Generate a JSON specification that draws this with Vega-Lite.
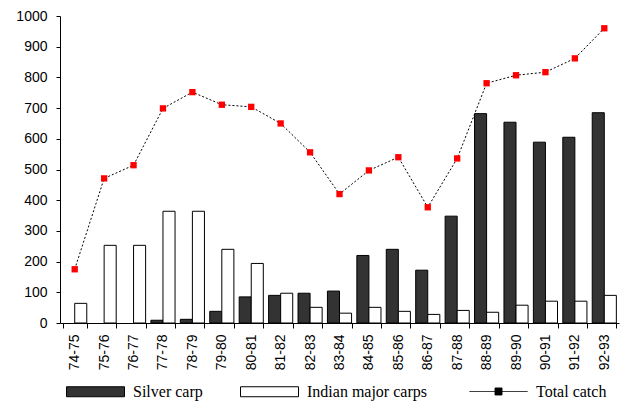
{
  "$schema": "https://vega.github.io/schema/vega-lite/v6.json",
  "width": 559,
  "height": 307,
  "autosize": {"type": "none"},
  "padding": {"left": 60, "top": 16, "right": 5, "bottom": 82},
  "background": "white",
  "config": {
    "view": {"stroke": null},
    "axis": {"domainColor": "black", "tickColor": "black", "labelColor": "black", "labelFont": "Liberation Sans", "labelFontSize": 14, "grid": false, "title": null}
  },
  "data": {
    "values": [
      {"period": "74-75", "Silver carp": 0, "Indian major carps": 64, "Total catch": 175},
      {"period": "75-76", "Silver carp": 0, "Indian major carps": 253, "Total catch": 471},
      {"period": "76-77", "Silver carp": 0, "Indian major carps": 253, "Total catch": 514},
      {"period": "77-78", "Silver carp": 9, "Indian major carps": 364, "Total catch": 699},
      {"period": "78-79", "Silver carp": 12, "Indian major carps": 364, "Total catch": 752},
      {"period": "79-80", "Silver carp": 38, "Indian major carps": 240, "Total catch": 711},
      {"period": "80-81", "Silver carp": 85, "Indian major carps": 194, "Total catch": 704},
      {"period": "81-82", "Silver carp": 90, "Indian major carps": 97, "Total catch": 650},
      {"period": "82-83", "Silver carp": 97, "Indian major carps": 51, "Total catch": 556},
      {"period": "83-84", "Silver carp": 104, "Indian major carps": 32, "Total catch": 420},
      {"period": "84-85", "Silver carp": 220, "Indian major carps": 51, "Total catch": 497},
      {"period": "85-86", "Silver carp": 240, "Indian major carps": 38, "Total catch": 540},
      {"period": "86-87", "Silver carp": 172, "Indian major carps": 28, "Total catch": 377},
      {"period": "87-88", "Silver carp": 348, "Indian major carps": 41, "Total catch": 536},
      {"period": "88-89", "Silver carp": 682, "Indian major carps": 35, "Total catch": 781},
      {"period": "89-90", "Silver carp": 654, "Indian major carps": 58, "Total catch": 807},
      {"period": "90-91", "Silver carp": 589, "Indian major carps": 71, "Total catch": 817},
      {"period": "91-92", "Silver carp": 605, "Indian major carps": 71, "Total catch": 862},
      {"period": "92-93", "Silver carp": 685, "Indian major carps": 90, "Total catch": 960}
    ]
  },
  "encoding": {
    "x": {
      "field": "period", "type": "nominal", "sort": null,
      "scale": {"paddingInner": 0.18, "paddingOuter": 0.09},
      "axis": {"labelAngle": -90, "tickBand": "extent", "tickSize": 5, "labelPadding": 6}
    }
  },
  "layer": [
    {
      "transform": [
        {"fold": ["Silver carp", "Indian major carps"], "as": ["series", "value"]},
        {"filter": "datum.value > 0"}
      ],
      "mark": {"type": "bar", "stroke": "black", "strokeWidth": 1},
      "encoding": {
        "xOffset": {"field": "series", "type": "nominal", "scale": {"domain": ["Silver carp", "Indian major carps"], "paddingInner": 0, "paddingOuter": 0}},
        "y": {
          "field": "value", "type": "quantitative",
          "scale": {"domain": [0, 1000], "nice": false},
          "axis": {"values": [0, 100, 200, 300, 400, 500, 600, 700, 800, 900, 1000], "format": "d", "labelOverlap": false, "tickSize": 4, "labelPadding": 9}
        },
        "fill": {
          "field": "series", "type": "nominal",
          "scale": {"domain": ["Silver carp", "Indian major carps"], "range": ["#333333", "#ffffff"]},
          "legend": {
            "title": null, "orient": "none", "legendX": 6, "legendY": 346, "direction": "horizontal",
            "symbolType": "M-1,-0.172H1V0.172H-1Z", "symbolSize": 3364, "symbolStrokeColor": "black", "symbolStrokeWidth": 1,
            "labelFont": "Liberation Serif", "labelFontSize": 16, "labelColor": "black", "labelOffset": 8, "columnPadding": 35, "padding": 0
          }
        }
      }
    },
    {
      "mark": {"type": "line", "strokeWidth": 1, "strokeDash": [2, 2]},
      "encoding": {
        "y": {
          "field": "Total catch", "type": "quantitative",
          "scale": {"domain": [0, 1000], "nice": false},
          "axis": {"values": [0, 100, 200, 300, 400, 500, 600, 700, 800, 900, 1000], "format": "d", "labelOverlap": false, "tickSize": 4, "labelPadding": 9}
        },
        "stroke": {
          "datum": "Total catch",
          "scale": {"range": ["black"]},
          "legend": {
            "title": null, "orient": "none", "legendX": 409, "legendY": 346,
            "symbolType": "M-1,0H1M-0.12,-0.12H0.12V0.12H-0.12Z", "symbolSize": 3364, "symbolStrokeColor": "black", "symbolFillColor": "black", "symbolStrokeWidth": 1, "symbolDash": [1, 0],
            "labelFont": "Liberation Serif", "labelFontSize": 16, "labelColor": "black", "labelOffset": 8, "padding": 0
          }
        }
      }
    },
    {
      "mark": {"type": "point", "shape": "square", "filled": true, "color": "#ff0000", "size": 40, "opacity": 1},
      "encoding": {
        "y": {
          "field": "Total catch", "type": "quantitative",
          "scale": {"domain": [0, 1000], "nice": false},
          "axis": {"values": [0, 100, 200, 300, 400, 500, 600, 700, 800, 900, 1000], "format": "d", "labelOverlap": false, "tickSize": 4, "labelPadding": 9}
        }
      }
    }
  ]
}
